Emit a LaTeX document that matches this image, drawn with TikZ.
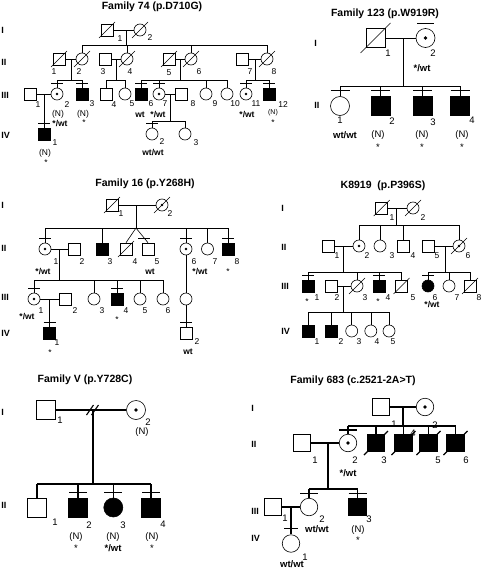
\documentclass[tikz,border=0pt]{standalone}
\usepackage{fontspec}
\setmainfont{Liberation Sans}
\newcommand{\deadmark}[2]{\draw (#1.center) ++(-#2pt,-#2pt) -- ++(2*#2pt,2*#2pt);}
\newcommand{\testbar}[3]{\draw ([xshift=-#2pt,yshift=#3pt]#1.north) -- ([xshift=#2pt,yshift=#3pt]#1.north);}
\newcommand{\swt}{*/wt}
\newcommand{\wwt}{wt/wt}

\begin{document}
\begin{tikzpicture}[x=1pt, y=-1pt, line width=0.6pt,
    male/.style={rectangle, draw, fill=white, line width=0.6pt, minimum size=12pt, inner sep=0pt},
    female/.style={circle, draw, fill=white, line width=0.6pt, minimum size=12pt, inner sep=0pt},
    big/.style={minimum size=#1}, big/.default=19pt,
    aff/.style={fill=black},
    carrier/.style={path picture={\fill[black] (path picture bounding box.center) circle (1.3pt);}},
    bigcarrier/.style={path picture={\fill[black] (path picture bounding box.center) circle (1.9pt);}},
    ttl/.style={font=\bfseries\fontsize{10.5}{12}\selectfont},
    gen/.style={font=\bfseries\fontsize{9}{10}\selectfont, anchor=west, inner sep=0pt},
    num/.style={font=\fontsize{8.5}{10}\selectfont, inner sep=0pt},
    bnum/.style={font=\fontsize{9.5}{11}\selectfont, inner sep=0pt},
    geno/.style={font=\bfseries\fontsize{8.5}{10}\selectfont, inner sep=0pt},
    bgeno/.style={font=\bfseries\fontsize{9.5}{11}\selectfont, inner sep=0pt}]
    \path[fill=white] (0,0) rectangle (482,570);
    \useasboundingbox (0,0) rectangle (482,570);

    %%% Family 74
    \node[ttl] (aT) at (152,7) {Family 74 (p.D710G)};
    \node[gen] (aGI) at (1,30) {I};
    \node[gen] (aGII) at (1,62) {II};
    \node[gen] (aGIII) at (1,95) {III};
    \node[gen] (aGIV) at (1,135) {IV};

    %nodes
    \node[male] (aI1) at (107,30) {};
    \node[female] (aI2) at (140,30) {};
    \node[male] (aII1) at (59,59) {};
    \node[female] (aII2) at (82,59) {};
    \node[male] (aII3) at (105,59) {};
    \node[female] (aII4) at (127,59) {};
    \node[male] (aII5) at (169,59) {};
    \node[female] (aII6) at (191,59) {};
    \node[male] (aII7) at (242,59) {};
    \node[female] (aII8) at (267,59) {};
    \node[male] (aIII1) at (30,94) {};
    \node[female, carrier] (aIII2) at (57,94) {};
    \node[male, aff] (aIII3) at (82,94) {};
    \node[male] (aIII4) at (106,94) {};
    \node[female] (aIII5) at (125,94) {};
    \node[male, aff] (aIII6) at (141,94) {};
    \node[female, carrier] (aIII7) at (159,94) {};
    \node[male] (aIII8) at (181,94) {};
    \node[female] (aIII9) at (206,94) {};
    \node[female] (aIII10) at (227,94) {};
    \node[female, carrier] (aIII11) at (246,94) {};
    \node[male, aff] (aIII12) at (269,94) {};
    \node[male, aff] (aIV1) at (44,134) {};
    \node[female] (aIV2) at (152,134) {};
    \node[female] (aIV3) at (185,134) {};

    %edges
    \coordinate (aS1) at (126,45);
    \draw (aI1) -- (aI2);
    \draw (aS1 |- aI1) -- (aS1);
    \draw (aII2 |- aS1) -- (aII8 |- aS1);
    \foreach \c in {aII2,aII4,aII6,aII8} \draw (\c) -- (\c |- aS1);

    \coordinate (aS2) at (71,80);
    \draw (aII1) -- (aII2);
    \draw (aS2 |- aII1) -- (aS2);
    \draw (aIII2 |- aS2) -- (aIII3 |- aS2);
    \foreach \c in {aIII2,aIII3} \draw (\c) -- (\c |- aS2);

    \coordinate (aS3) at (116,80);
    \draw (aII3) -- (aII4);
    \draw (aS3 |- aII3) -- (aS3);
    \draw (aIII4 |- aS3) -- (aIII5 |- aS3);
    \foreach \c in {aIII4,aIII5} \draw (\c) -- (\c |- aS3);

    \coordinate (aS4) at (180,80);
    \draw (aII5) -- (aII6);
    \draw (aS4 |- aII5) -- (aS4);
    \draw (aIII6 |- aS4) -- (aIII10 |- aS4);
    \foreach \c in {aIII6,aIII7,aIII9,aIII10} \draw (\c) -- (\c |- aS4);

    \coordinate (aS5) at (255,80);
    \draw (aII7) -- (aII8);
    \draw (aS5 |- aII7) -- (aS5);
    \draw (aIII11 |- aS5) -- (aIII12 |- aS5);
    \foreach \c in {aIII11,aIII12} \draw (\c) -- (\c |- aS5);

    \draw (aIII1) -- (aIII2);
    \draw (aIV1 |- aIII1) -- (aIV1);

    \coordinate (aS6) at (170,121);
    \draw (aIII7) -- (aIII8);
    \draw (aS6 |- aIII7) -- (aS6);
    \draw (aIV2 |- aS6) -- (aIV3 |- aS6);
    \foreach \c in {aIV2,aIV3} \draw (\c) -- (\c |- aS6);

    %marks
    \foreach \c in {aI1,aI2,aII1,aII2,aII4,aII5,aII6,aII8} {\deadmark{\c}{8}}
    \foreach \c in {aIII2,aIII3,aIII6,aIII7,aIII11,aIII12,aIV1,aIV2} {\testbar{\c}{6}{4.5}}

    %labels
    \foreach \t/\x/\y [count=\i] in {1/120/39, 2/150/38, 1/54/72, 2/79/72, 3/103/72, 4/130/72,
        5/169/73, 6/199/72, 7/250/72, 8/274/72, 1/38/105, 2/67/105, 3/92/104, 4/114/105,
        5/132/104, 6/151/104, 7/165/104, 8/193/104, 9/215/104, 10/235/104, 11/256/104,
        12/283/105, 1/55/143, 2/162/142, 3/196/143}
        \node[num] (aN\i) at (\x,\y) {\t};
    \node[num] (aX1) at (58,114) {(N)};
    \node[num] (aX2) at (83,114) {(N)};
    \node[num] (aX3) at (45,153) {(N)};
    \node[num, font=\fontsize{7}{8}\selectfont] (aX4) at (273,113) {(N)};
    \node[num] (aX5) at (84,123) {*};
    \node[num] (aX6) at (46,163) {*};
    \node[num] (aX7) at (273,123) {*};
    \node[geno] (aY1) at (60,124) {\swt};
    \node[geno] (aY2) at (140,115) {wt};
    \node[geno] (aY3) at (158,115) {\swt};
    \node[geno] (aY4) at (247,115) {\swt};
    \node[geno] (aY5) at (153,153) {\wwt};

    %%% Family 123
    \node[ttl] (bT) at (385,14) {Family 123 (p.W919R)};
    \node[gen] (bGI) at (314,43) {I};
    \node[gen] (bGII) at (314,105) {II};

    %nodes
    \node[male, big] (bI1) at (375.5,38) {};
    \node[female, big, bigcarrier] (bI2) at (425.5,38) {};
    \node[female, big] (bII1) at (340,106) {};
    \node[male, big, aff] (bII2) at (380.5,106) {};
    \node[male, big, aff] (bII3) at (422.5,106) {};
    \node[male, big, aff] (bII4) at (460,106) {};

    %edges
    \coordinate (bS1) at (403,86);
    \draw (bI1) -- (bI2);
    \draw (bS1 |- bI1) -- (bS1);
    \draw (bII1 |- bS1) -- (bII4 |- bS1);
    \foreach \c in {bII1,bII2,bII3,bII4} \draw (\c) -- (\c |- bS1);

    %marks
    \deadmark{bI1}{15}
    \testbar{bI2}{8.5}{4.5}
    \foreach \c in {bII1,bII2,bII3,bII4} {\testbar{\c}{9.5}{6}}

    %labels
    \foreach \t/\x/\y [count=\i] in {1/388/53, 2/433/53, 1/340/120, 2/392/121, 3/433/122, 4/472/120}
        \node[bnum] (bN\i) at (\x,\y) {\t};
    \foreach \x [count=\i] in {378,422,462} {
        \node[bnum] (bX\i) at (\x,135) {(N)};
        \node[bnum] (bZ\i) at (\x,147) {*};
    }
    \node[bgeno] (bY1) at (422,68) {\swt};
    \node[bgeno] (bY2) at (345,135) {\wwt};

    %%% Family 16
    \node[ttl] (cT) at (145,184) {Family 16 (p.Y268H)};
    \node[gen] (cGI) at (1,205) {I};
    \node[gen] (cGII) at (1,248) {II};
    \node[gen] (cGIII) at (1,297) {III};
    \node[gen] (cGIV) at (1,333) {IV};

    %nodes
    \node[male] (cI1) at (112,205) {};
    \node[female, carrier] (cI2) at (162,205) {};
    \node[female, carrier] (cII1) at (45,249) {};
    \node[male] (cII2) at (74,249) {};
    \node[male, aff] (cII3) at (102.5,249) {};
    \node[male] (cII4) at (126,249) {};
    \node[male] (cII5) at (148,249) {};
    \node[female, carrier] (cII6) at (186,249) {};
    \node[female] (cII7) at (207.5,249) {};
    \node[male, aff] (cII8) at (228,249) {};
    \node[female, carrier] (cIII1) at (34,299) {};
    \node[male] (cIII2) at (65,299) {};
    \node[female] (cIII3) at (94,299) {};
    \node[male, aff] (cIII4) at (117,299) {};
    \node[female] (cIII5) at (140,299) {};
    \node[female] (cIII6) at (163,299) {};
    \node[female] (cIII7) at (186,299) {};
    \node[male, aff] (cIV1) at (49.5,333) {};
    \node[male] (cIV2) at (186,333) {};

    %edges
    \coordinate (cS1) at (136,228);
    \draw (cI1) -- (cI2);
    \draw (cS1 |- cI1) -- (cS1);
    \draw (cII1 |- cS1) -- (cII8 |- cS1);
    \foreach \c in {cII1,cII3,cII6,cII7,cII8} \draw (\c) -- (\c |- cS1);
    \draw (cS1) -- (cII4.north);
    \draw (cS1) -- (cII5.north);
    \draw (138,238) -- (150,238);

    \coordinate (cS2) at (59,280);
    \draw (cII1) -- (cII2);
    \draw (cS2 |- cII1) -- (cS2);
    \draw (cIII1 |- cS2) -- (cIII6 |- cS2);
    \foreach \c in {cIII1,cIII3,cIII4,cIII5,cIII6} \draw (\c) -- (\c |- cS2);

    \draw (cII6) -- (cIII7);
    \draw (cIII7) -- (cIV2);
    \draw (cIII1) -- (cIII2);
    \draw (cIV1 |- cIII1) -- (cIV1);

    %marks
    \foreach \c in {cI1,cI2,cII4} {\deadmark{\c}{8}}
    \foreach \c in {cII1,cII6,cII8,cIII1,cIII4,cIV1,cIV2} {\testbar{\c}{6}{4.5}}

    %labels
    \foreach \t/\x/\y [count=\i] in {1/121/214, 2/170/214, 1/56/262, 2/82/262, 3/110/262,
        4/135/262, 5/157/262, 6/194/262, 7/215/262, 8/237/262, 1/41/311, 2/75/311,
        3/102/311, 4/126/311, 5/145/311, 6/168/311, 1/57/343, 2/197/342}
        \node[num] (cN\i) at (\x,\y) {\t};
    \node[geno] (cY1) at (43,272) {\swt};
    \node[geno] (cY2) at (150,272) {wt};
    \node[geno] (cY3) at (200,272) {\swt};
    \node[geno] (cY4) at (27,317) {\swt};
    \node[geno] (cY5) at (188,352) {wt};
    \node[num] (cX1) at (228,272) {*};
    \node[num] (cX2) at (117,320) {*};
    \node[num] (cX3) at (50,353) {*};

    %%% K8919
    \node[ttl] (dT) at (383,186) {K8919~~(p.P396S)};
    \node[gen] (dGI) at (281,208) {I};
    \node[gen] (dGII) at (281,247) {II};
    \node[gen] (dGIII) at (281,286) {III};
    \node[gen] (dGIV) at (281,331) {IV};

    %nodes
    \node[male] (dI1) at (381.7,208) {};
    \node[female] (dI2) at (413,208) {};
    \node[male] (dII1) at (328,246) {};
    \node[female, carrier] (dII2) at (359,246) {};
    \node[female] (dII3) at (380,246) {};
    \node[male] (dII4) at (403.3,246) {};
    \node[male] (dII5) at (428,246) {};
    \node[female, carrier] (dII6) at (459,246) {};
    \node[male, aff] (dIII1) at (308.3,286) {};
    \node[male] (dIII2) at (331,286) {};
    \node[female] (dIII3) at (357,286) {};
    \node[male, aff] (dIII4) at (379.2,286) {};
    \node[male] (dIII5) at (401.5,286) {};
    \node[female, aff] (dIII6) at (428,286) {};
    \node[female] (dIII7) at (449,286) {};
    \node[male] (dIII8) at (470,286) {};
    \node[male, aff] (dIV1) at (308.7,331) {};
    \node[male, aff] (dIV2) at (331.7,331) {};
    \node[female] (dIV3) at (351.7,331) {};
    \node[female] (dIV4) at (370.8,331) {};
    \node[female] (dIV5) at (389,331) {};

    %edges
    \coordinate (dS1) at (396.7,225);
    \draw (dI1) -- (dI2);
    \draw (dS1 |- dI1) -- (dS1);
    \draw (dII2 |- dS1) -- (dII6 |- dS1);
    \foreach \c in {dII2,dII3,dII4,dII6} \draw (\c) -- (\c |- dS1);

    \coordinate (dS2) at (343,272);
    \draw (dII1) -- (dII2);
    \draw (dS2 |- dII1) -- (dS2);
    \draw (dIII1 |- dS2) -- (dIII5 |- dS2);
    \foreach \c in {dIII1,dIII3,dIII4,dIII5} \draw (\c) -- (\c |- dS2);

    \coordinate (dS3) at (445,272);
    \draw (dII5) -- (dII6);
    \draw (dS3 |- dII5) -- (dS3);
    \draw (dIII6 |- dS3) -- (dIII8 |- dS3);
    \foreach \c in {dIII6,dIII7,dIII8} \draw (\c) -- (\c |- dS3);

    \coordinate (dS4) at (343,312);
    \draw (dIII2) -- (dIII3);
    \draw (dS4 |- dIII2) -- (dS4);
    \draw (dIV1 |- dS4) -- (dIV5 |- dS4);
    \foreach \c in {dIV1,dIV2,dIV3,dIV4,dIV5} \draw (\c) -- (\c |- dS4);

    %marks
    \foreach \c in {dI1,dI2,dII6,dIII3,dIII5,dIII8} {\deadmark{\c}{8}}
    \foreach \c in {dIII1,dIII4,dIII6} {\testbar{\c}{6}{4.5}}

    %labels
    \foreach \t/\x/\y [count=\i] in {1/392/218, 2/423/218, 1/337/256, 2/367/256, 3/392/256,
        4/413/256, 5/437/256, 6/468/256, 1/317/298, 2/337/298, 3/365/298, 4/388/298,
        5/413/298, 6/435/298, 7/457/298, 8/479/298, 1/317/342, 2/341/342, 3/359/342,
        4/377/342, 5/393/342}
        \node[num] (dN\i) at (\x,\y) {\t};
    \node[num] (dX1) at (307,302) {*};
    \node[num] (dX2) at (378,302) {*};
    \node[geno] (dY1) at (432,305) {\swt};

    %%% Family V
    \node[ttl] (eT) at (85,380) {Family V (p.Y728C)};
    \node[gen] (eGI) at (1,412) {I};
    \node[gen] (eGII) at (1,505) {II};

    \begin{scope}[line width=1.1pt]
    %nodes
    \node[male, big] (eI1) at (46,410) {};
    \node[female, big, bigcarrier] (eI2) at (136,410) {};
    \node[male, big] (eII1) at (37,507.5) {};
    \node[male, big, aff] (eII2) at (78,507.5) {};
    \node[female, big, aff] (eII3) at (113.3,507.5) {};
    \node[male, big, aff] (eII4) at (151,507.5) {};

    %edges
    \coordinate (eS1) at (93,484);
    \draw (eI1) -- (eI2);
    \draw (eS1 |- eI1) -- (eS1);
    \draw (86.5,415) -- (93.5,405);
    \draw (91.5,415) -- (98.5,405);
    \draw (eII1 |- eS1) -- (eII4 |- eS1);
    \foreach \c in {eII1,eII2,eII3,eII4} \draw (\c) -- (\c |- eS1);

    %marks
    \foreach \c in {eII2,eII3,eII4} {\testbar{\c}{9}{5}}
    \end{scope}

    %labels
    \foreach \t/\x/\y [count=\i] in {1/60/420, 2/148/422, 1/55/522, 2/89/525, 3/123/525, 4/163/524}
        \node[bnum] (eN\i) at (\x,\y) {\t};
    \foreach \x/\y [count=\i] in {142/432, 76/537, 113/537, 152/537}
        \node[bnum] (eX\i) at (\x,\y) {(N)};
    \node[bnum] (eZ1) at (76,548) {*};
    \node[bnum] (eZ2) at (152,548) {*};
    \node[bgeno] (eY1) at (113,548) {\swt};

    %%% Family 683
    \node[ttl] (fT) at (353,381) {Family 683 (c.2521-2A>T)};
    \node[gen] (fGI) at (251,408) {I};
    \node[gen] (fGII) at (251,444) {II};
    \node[gen] (fGIII) at (251,511) {III};
    \node[gen] (fGIV) at (251,538) {IV};

    \begin{scope}[line width=1.1pt]
    %nodes
    \node[male, big=17.5pt] (fI1) at (381,407) {};
    \node[female, big=17.5pt, bigcarrier] (fI2) at (425,407) {};
    \node[male, big=17.5pt] (fII1) at (301.7,443) {};
    \node[female, big=17.5pt, bigcarrier] (fII2) at (348,443) {};
    \node[male, big=17.5pt, aff] (fII3) at (376,443) {};
    \node[male, big=17.5pt, aff] (fII4) at (403.5,443) {};
    \node[male, big=17.5pt, aff] (fII5) at (428.5,443) {};
    \node[male, big=17.5pt, aff] (fII6) at (455.5,443) {};
    \node[male, big=17.5pt] (fIII1) at (273,507) {};
    \node[female, big=17.5pt] (fIII2) at (309,507) {};
    \node[male, big=17.5pt, aff] (fIII3) at (357.5,507) {};
    \node[female, big=17.5pt] (fIV1) at (291,543.5) {};

    %edges
    \coordinate (fS1) at (403,426);
    \draw (fI1) -- (fI2);
    \draw (fS1 |- fI1) -- (fS1);
    \draw (fII2 |- fS1) -- (fII6 |- fS1);
    \foreach \c in {fII2,fII3,fII4,fII5,fII6} \draw (\c) -- (\c |- fS1);

    \coordinate (fS2) at (328,489);
    \draw (fII1) -- (fII2);
    \draw (fS2 |- fII1) -- (fS2);
    \draw (fIII2 |- fS2) -- (fIII3 |- fS2);
    \foreach \c in {fIII2,fIII3} \draw (\c) -- (\c |- fS2);

    \draw (fIII1) -- (fIII2);
    \draw (fIV1 |- fIII1) -- (fIV1);

    %marks
    \foreach \c in {fII3,fII4,fII5,fII6} {\deadmark{\c}{12}}
    \testbar{fII2}{9}{4}
    \foreach \c in {fIII2,fIII3} {\testbar{\c}{9}{4.5}}
    \testbar{fIV1}{7}{6}
    \end{scope}

    %labels
    \foreach \t/\x/\y [count=\i] in {1/394/424, 2/435/425, 1/315/460, 2/355/460, 3/384/460,
        4/413/433, 5/438/460, 6/466/460, 1/285/518, 2/322/519, 3/369/519, 1/305/557}
        \node[bnum] (fN\i) at (\x,\y) {\t};
    \node[bnum] (fX1) at (358,530) {(N)};
    \node[bnum] (fZ1) at (358,540) {*};
    \node[bgeno] (fY1) at (348,473) {\swt};
    \node[bgeno] (fY2) at (317,529) {\wwt};
    \node[bgeno] (fY3) at (292,564) {\wwt};
\end{tikzpicture}
\end{document}
